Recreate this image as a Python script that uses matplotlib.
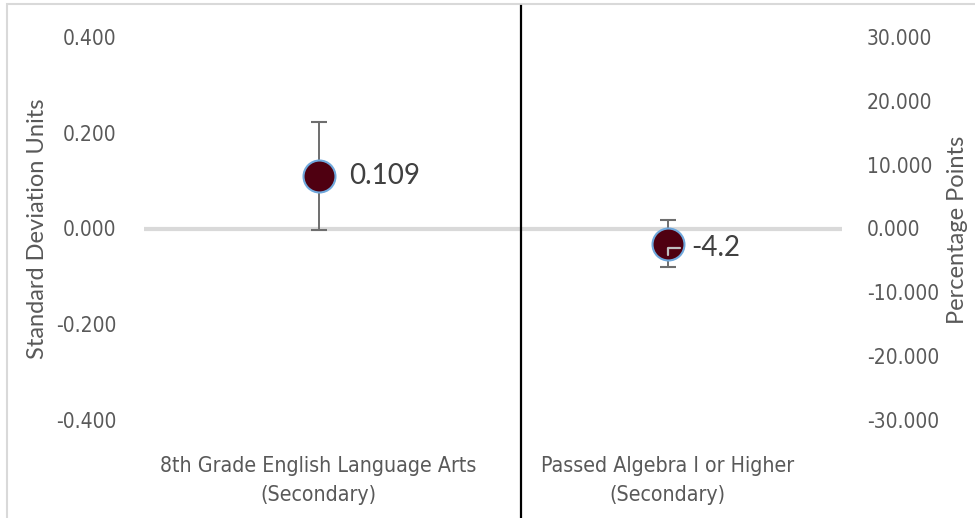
import matplotlib

matplotlib.use("Agg")

import matplotlib.pyplot as plt
from matplotlib.lines import Line2D
from matplotlib.patches import Rectangle
from matplotlib.ticker import FormatStrFormatter

# outcomes (x categories)
categories = [
    "8th Grade English Language Arts\n(Secondary)",
    "Passed Algebra I or Higher\n(Secondary)",
]

# left axis: standard deviation units
sd_value = [0.109]
sd_err = [0.113]
sd_label = ["0.109"]

# right axis: percentage points (marker position as drawn, label as printed)
pp_value = [-2.4]
pp_err = [3.7]
pp_label = ["-4.2"]

left_ticks = [-0.4, -0.2, 0.0, 0.2, 0.4]
right_ticks = [-30, -20, -10, 0, 10, 20, 30]

GRAY_TXT = "#595959"
HUMAN = ["Lato", "DejaVu Sans"]

fig = plt.figure(figsize=(9.75, 5.18), dpi=100)
ax = fig.add_axes([144 / 975, 1 - 420 / 518, (842 - 144) / 975, (420 - 37) / 518])
ax2 = ax.twinx()

for a in (ax, ax2):
    for s in a.spines.values():
        s.set_visible(False)
    a.tick_params(length=0, colors=GRAY_TXT)

ax.set_xlim(-0.5, 1.5)
ax.set_ylim(left_ticks[0], left_ticks[-1])
ax.set_yticks(left_ticks)
ax.yaxis.set_major_formatter(FormatStrFormatter("%.3f"))
ax2.set_ylim(right_ticks[0], right_ticks[-1])
ax2.set_yticks(right_ticks)
ax2.yaxis.set_major_formatter(FormatStrFormatter("%.3f"))

ax.set_xticks(range(len(categories)))
ax.set_xticklabels(categories, linespacing=1.55)
ax.tick_params(axis="x", pad=26)
ax.tick_params(axis="y", pad=20)
ax2.tick_params(axis="y", pad=18)
for lab in ax.get_yticklabels() + ax2.get_yticklabels():
    lab.set_family("DejaVu Sans")
    lab.set_stretch("condensed")
    lab.set_fontsize(15)
    lab.set_color(GRAY_TXT)
for lab in ax.get_xticklabels():
    lab.set_family("DejaVu Sans")
    lab.set_stretch("condensed")
    lab.set_fontsize(15.3)
    lab.set_color(GRAY_TXT)

ax.axhline(0, color="#d9d9d9", lw=3, zorder=1)

mkw = dict(fmt="o", ms=23, mfc="#4f0011", mec="#6fa8dc", mew=1.5,
           ecolor="#6e6e6e", elinewidth=1.4, capsize=6, capthick=1.4, zorder=4)
ax.errorbar([0], sd_value, yerr=sd_err, **mkw)
ax2.errorbar([1], pp_value, yerr=pp_err, **mkw)

ax.annotate(sd_label[0], (0, sd_value[0]), xytext=(22, 0), textcoords="offset points",
            va="center", ha="left", fontsize=20, color="#404040", family=HUMAN)
# label with Excel-style leader line pointing at the printed value
ax2.annotate(pp_label[0], (1, float(pp_label[0])), xytext=(17, 5.5), textcoords="offset points",
             va="center", ha="left", fontsize=20, color="#404040", family=HUMAN, zorder=6,
             arrowprops=dict(arrowstyle="-", color="#bfbfbf", lw=1.6, relpos=(0, 0.5),
                             shrinkA=6, shrinkB=0,
                             connectionstyle="angle,angleA=0,angleB=90,rad=0"))

fig.text(38 / 975, 1 - 229 / 518, "Standard Deviation Units", rotation=90,
         ha="center", va="center", fontsize=17, color=GRAY_TXT, family=HUMAN)
fig.text(958 / 975, 1 - 230 / 518, "Percentage Points", rotation=90,
         ha="center", va="center", fontsize=17, color=GRAY_TXT, family=HUMAN)

# chart frame and separator
fig.add_artist(Rectangle((7 / 975, -0.1), 1.2, 1 - 4 / 518 + 0.1, transform=fig.transFigure,
                         fill=False, ec="#d9d9d9", lw=1.5))
fig.add_artist(Line2D([521 / 975, 521 / 975], [0, 1 - 6 / 518], transform=fig.transFigure,
                      color="black", lw=1.6))

fig.savefig("out.png", dpi=100)
